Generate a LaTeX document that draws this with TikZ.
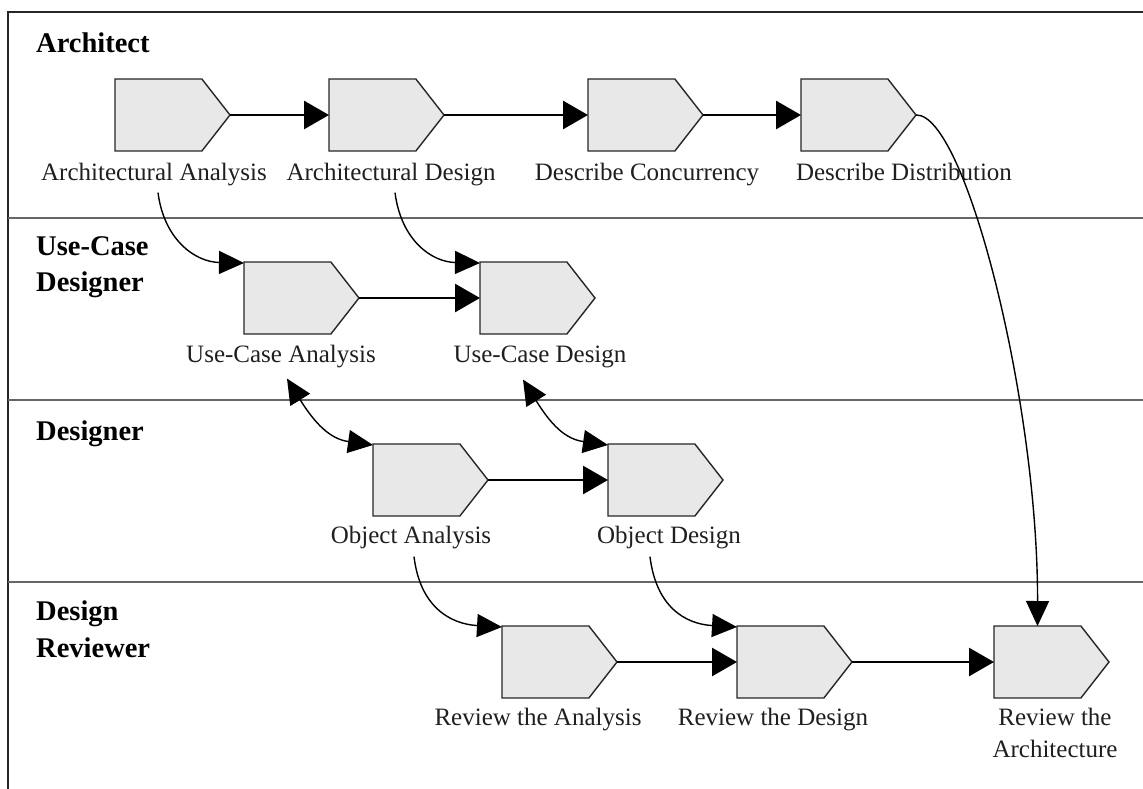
\documentclass[tikz,border=0pt]{standalone}
\usepackage{fontspec}
\setmainfont{Liberation Serif}
\usetikzlibrary{shapes.symbols,arrows.meta,calc}

\begin{document}
\begin{tikzpicture}[x=1pt,y=-1pt,
  activity/.style={signal, signal to=east, signal pointer angle=104,
    draw=black!85, line width=1.4pt, fill=black!9,
    minimum width=115pt, minimum height=72pt, inner sep=0pt, outer sep=0pt, anchor=west},
  acttext/.style={font=\fontsize{25}{32}\selectfont, text=black!88, inner sep=0pt},
  lanetitle/.style={font=\fontsize{28.5}{36}\selectfont\bfseries, anchor=base west, inner sep=0pt},
  flow/.style={line width=2.8pt, -{Triangle[length=25pt,width=28pt]}},
  link/.style={line width=1.4pt, -{Triangle[length=25pt,width=23pt]}},
  twoway/.style={line width=1.4pt, {Triangle[length=25pt,width=23pt]}-{Triangle[length=25pt,width=23pt]}},
  laneline/.style={draw=black!60, line width=2.2pt}
]
\useasboundingbox (0,0) rectangle (1143,789);

% frame and swim-lane separators
\draw[black!85, line width=2.2pt] (8,789) -- (8,12) -- (1143,12);
\draw[laneline] (8,218) -- (1143,218);
\draw[laneline] (8,400) -- (1143,400);
\draw[laneline] (8,582) -- (1143,582);

% lane titles
\node[lanetitle] (l-arch) at (36,53) {Architect};
\node[lanetitle] (l-ucd1) at (36,255) {Use-Case};
\node[lanetitle] (l-ucd2) at (36,291) {Designer};
\node[lanetitle] (l-des)  at (36,440) {Designer};
\node[lanetitle] (l-rev1) at (36,620) {Design};
\node[lanetitle] (l-rev2) at (36,657) {Reviewer};

% Architect activities
\node[activity] (aa) at (115,115) {};
\node[activity] (ad) at (329,115) {};
\node[activity] (dc) at (588,115) {};
\node[activity] (dd) at (801,115) {};
\node[acttext, anchor=base] (aa-t) at (154,180) {Architectural Analysis};
\node[acttext, anchor=base] (ad-t) at (391,180) {Architectural Design};
\node[acttext, anchor=base] (dc-t) at (647,180) {Describe Concurrency};
\node[acttext, anchor=base] (dd-t) at (904,180) {Describe Distribution};

% Use-Case Designer activities
\node[activity] (uca) at (244,298) {};
\node[activity] (ucd) at (480,298) {};
\node[acttext, anchor=base] (uca-t) at (281,362) {Use-Case Analysis};
\node[acttext, anchor=base] (ucd-t) at (540,362) {Use-Case Design};

% Designer activities
\node[activity] (oa) at (373,480) {};
\node[activity] (od) at (608,480) {};
\node[acttext, anchor=base] (oa-t) at (411,543) {Object Analysis};
\node[acttext, anchor=base] (od-t) at (669,543) {Object Design};

% Design Reviewer activities
\node[activity] (ra)    at (502,662) {};
\node[activity] (rd)    at (737,662) {};
\node[activity] (rarch) at (994,662) {};
\node[acttext, anchor=base] (ra-t) at (538,725) {Review the Analysis};
\node[acttext, anchor=base] (rd-t) at (773,725) {Review the Design};
\node[acttext, anchor=north, align=center] (rarch-t) at (1055,708) {Review the\\Architecture};

% sequence within each lane
\draw[flow] (aa.east) -- (ad.west);
\draw[flow] (ad.east) -- (dc.west);
\draw[flow] (dc.east) -- (dd.west);
\draw[flow] (uca.east) -- (ucd.west);
\draw[flow] (oa.east) -- (od.west);
\draw[flow] (ra.east) -- (rd.west);
\draw[flow] (rd.east) -- (rarch.west);

% hand-offs between lanes
\draw[link] ([shift={(4,7)}]aa-t.south) .. controls +(6,47) and +(-49,-1) .. ($(uca.west)+(0,-35)$);
\draw[link] ([shift={(4,7)}]ad-t.south) .. controls +(6,47) and +(-49,-1) .. ($(ucd.west)+(0,-35)$);
\draw[twoway] ([shift={(6,11)}]uca-t.south) .. controls +(28,45) and +(-43,-6) .. ($(oa.west)+(0,-35)$);
\draw[twoway] ([shift={(-17,12)}]ucd-t.south) .. controls +(28,45) and +(-43,-6) .. ($(od.west)+(0,-35)$);
\draw[link] ([shift={(3,8)}]oa-t.south) .. controls +(6,50) and +(-52,-3) .. ($(ra.west)+(0,-35)$);
\draw[link] ([shift={(-19,8)}]od-t.south) .. controls +(6,50) and +(-52,-3) .. ($(rd.west)+(0,-35)$);
\draw[link] (dd.east) .. controls (965,113) and (1038,400) .. ($(rarch.west)+(43.5,-36)$);
\end{tikzpicture}
\end{document}
